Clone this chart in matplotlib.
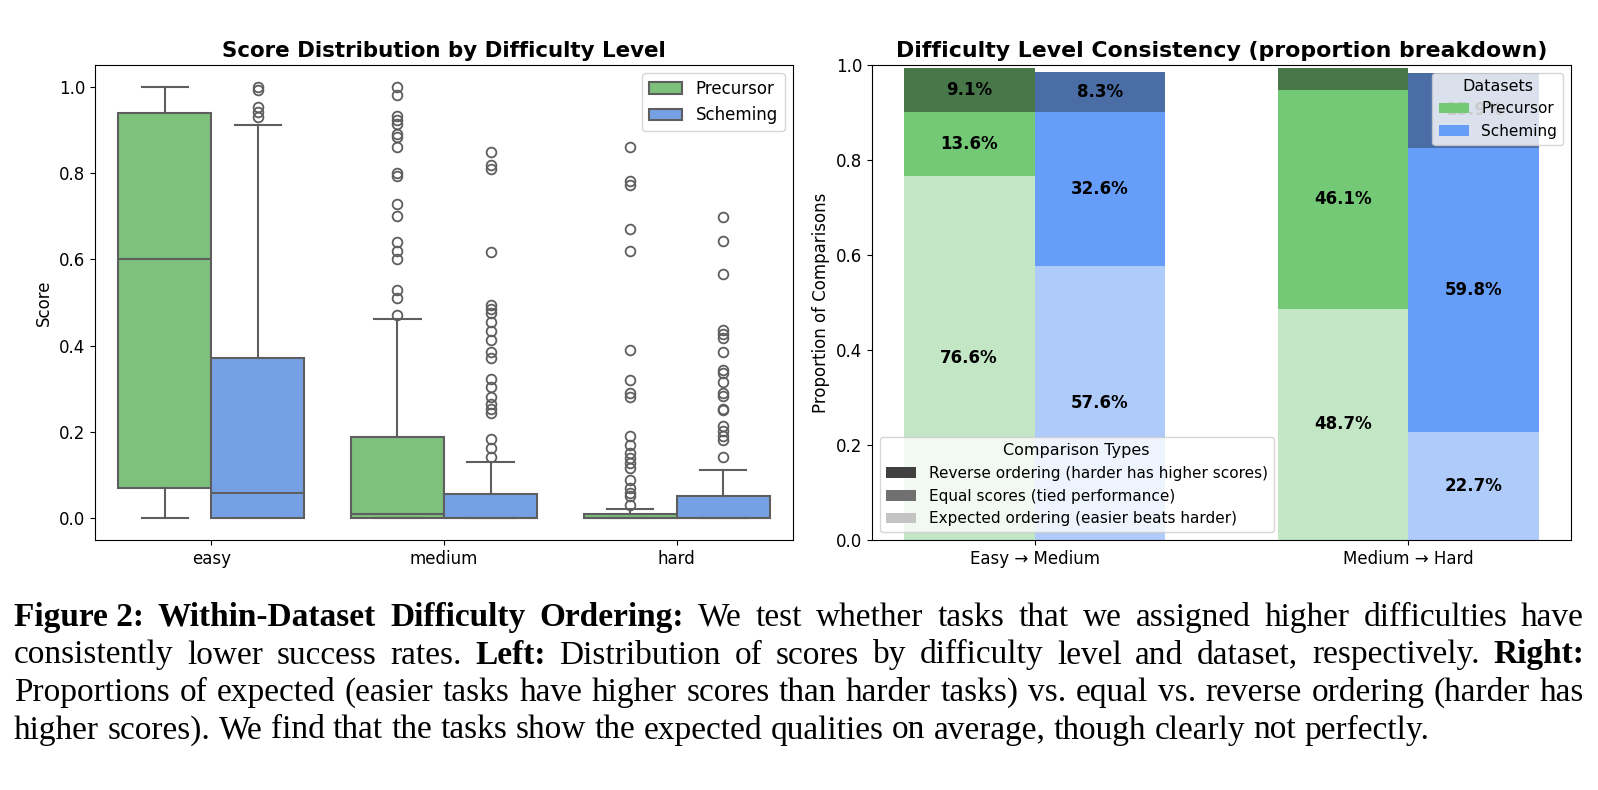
import numpy as np
import matplotlib
matplotlib.use("Agg")
import matplotlib.pyplot as plt
from matplotlib.patches import Patch

plt.rcParams['font.family'] = ['DejaVu Sans']
plt.rcParams['font.size'] = 12

# ---- left panel: box plot summaries ----
difficulties = ['easy', 'medium', 'hard']
datasets = ['Precursor', 'Scheming']

q1 = {'Precursor': [0.07, 0.0, 0.0], 'Scheming': [0.0, 0.0, 0.0]}
med = {'Precursor': [0.60, 0.01, 0.0], 'Scheming': [0.06, 0.0, 0.0]}
q3 = {'Precursor': [0.94, 0.189, 0.011], 'Scheming': [0.371, 0.056, 0.052]}
whislo = {'Precursor': [0.0, 0.0, 0.0], 'Scheming': [0.0, 0.0, 0.0]}
whishi = {'Precursor': [1.0, 0.461, 0.021], 'Scheming': [0.910, 0.131, 0.112]}
fliers = {
    'Precursor': [
        [],
        [1.0, 0.980, 0.931, 0.922, 0.914, 0.891, 0.883, 0.860, 0.800, 0.793,
         0.729, 0.700, 0.640, 0.620, 0.600, 0.530, 0.510, 0.471],
        [0.860, 0.781, 0.771, 0.671, 0.620, 0.391, 0.320, 0.291, 0.282, 0.192,
         0.171, 0.152, 0.140, 0.129, 0.117, 0.090, 0.071, 0.059, 0.052, 0.032],
    ],
    'Scheming': [
        [1.0, 0.991, 0.953, 0.941, 0.930],
        [0.849, 0.819, 0.809, 0.617, 0.495, 0.485, 0.476, 0.455, 0.435, 0.414,
         0.385, 0.372, 0.324, 0.304, 0.282, 0.264, 0.254, 0.245, 0.183, 0.163,
         0.143],
        [0.697, 0.642, 0.566, 0.436, 0.426, 0.418, 0.385, 0.343, 0.336, 0.316,
         0.291, 0.283, 0.254, 0.252, 0.214, 0.202, 0.191, 0.181, 0.143],
    ],
}
box_colors = {'Precursor': '#7dc17c', 'Scheming': '#75a1e4'}

# ---- right panel: proportions (%) ----
transitions = ['Easy \u2192 Medium', 'Medium \u2192 Hard']
expected = {'Precursor': [76.6, 48.7], 'Scheming': [57.6, 22.7]}
equal = {'Precursor': [13.6, 46.1], 'Scheming': [32.6, 59.8]}
reverse = {'Precursor': [9.1, 4.5], 'Scheming': [8.3, 15.9]}

seg_colors = {
    'Precursor': ['#c3e6c5', '#74c976', '#48784a'],
    'Scheming': ['#aecbfa', '#659df8', '#4a6da6'],
}
type_labels = ['Reverse ordering (harder has higher scores)',
               'Equal scores (tied performance)',
               'Expected ordering (easier beats harder)']
type_colors = ['#404040', '#707070', '#c4c4c4']

W, H = 1598, 790
fig = plt.figure(figsize=(W / 100, H / 100), dpi=100)
ax1 = fig.add_axes([95 / W, (H - 540) / H, 698 / W, 475 / H])
ax2 = fig.add_axes([872 / W, (H - 540) / H, 699 / W, 475 / H])

# boxplots
line_col = '#5e5e5e'
for j, ds in enumerate(datasets):
    stats = []
    for i in range(len(difficulties)):
        stats.append(dict(q1=q1[ds][i], med=med[ds][i], q3=q3[ds][i],
                          whislo=whislo[ds][i], whishi=whishi[ds][i],
                          fliers=fliers[ds][i]))
    pos = np.arange(len(difficulties)) - 0.2 + 0.4 * j
    ax1.bxp(stats, positions=pos, widths=0.4, capwidths=0.2,
            patch_artist=True, manage_ticks=False,
            boxprops=dict(facecolor=box_colors[ds], edgecolor=line_col, linewidth=1.5),
            medianprops=dict(color=line_col, linewidth=1.5),
            whiskerprops=dict(color=line_col, linewidth=1.5),
            capprops=dict(color=line_col, linewidth=1.5),
            flierprops=dict(marker='o', markerfacecolor='none',
                            markeredgecolor=line_col, markersize=7,
                            markeredgewidth=1.3))
ax1.set_xlim(-0.5, 2.5)
ax1.set_ylim(-0.05, 1.05)
ax1.set_xticks(range(len(difficulties)))
ax1.set_xticklabels(difficulties)
ax1.set_ylabel('Score')
ax1.set_title('Score Distribution by Difficulty Level', fontsize=15.4,
              fontweight='bold')
ax1.legend(handles=[Patch(facecolor=box_colors[d], edgecolor=line_col,
                          linewidth=1.5, label=d) for d in datasets],
           loc='upper right')

# stacked bars
x = np.arange(len(transitions))
bw = 0.35
for j, ds in enumerate(datasets):
    xp = x - bw / 2 + bw * j
    ex = np.array(expected[ds]) / 100
    eq = np.array(equal[ds]) / 100
    rv = np.array(reverse[ds]) / 100
    c = seg_colors[ds]
    ax2.bar(xp, ex, bw, color=c[0])
    ax2.bar(xp, eq, bw, bottom=ex, color=c[1])
    ax2.bar(xp, rv, bw, bottom=ex + eq, color=c[2])
    for k in range(len(x)):
        for val, bot in ((ex[k], 0), (eq[k], ex[k]), (rv[k], ex[k] + eq[k])):
            if val >= 0.05:
                ax2.text(xp[k], bot + val / 2, f'{val * 100:.1f}%',
                         ha='center', va='center', fontsize=12,
                         fontweight='bold')
ax2.set_ylim(0, 1.0)
ax2.set_xticks(x)
ax2.set_xticklabels(transitions)
ax2.set_ylabel('Proportion of Comparisons')
ax2.set_title('Difficulty Level Consistency (proportion breakdown)',
              fontsize=15.8, fontweight='bold')
leg1 = ax2.legend(handles=[Patch(facecolor=seg_colors[d][1], label=d)
                           for d in datasets],
                  title='Datasets', loc='upper right', fontsize=11,
                  title_fontsize=11.5)
ax2.add_artist(leg1)
ax2.legend(handles=[Patch(facecolor=c, label=l)
                    for c, l in zip(type_colors, type_labels)],
           title='Comparison Types', loc='lower left', fontsize=11,
           title_fontsize=11.5)

# caption, justified like the paper
cap_lines = [
    [('Figure 2:', 1), ('Within-Dataset', 1), ('Difficulty', 1), ('Ordering:', 1),
     ('We', 0), ('test', 0), ('whether', 0), ('tasks', 0), ('that', 0), ('we', 0),
     ('assigned', 0), ('higher', 0), ('difficulties', 0), ('have', 0)],
    [('consistently', 0), ('lower', 0), ('success', 0), ('rates.', 0), ('Left:', 1),
     ('Distribution', 0), ('of', 0), ('scores', 0), ('by', 0), ('difficulty', 0),
     ('level', 0), ('and', 0), ('dataset,', 0), ('respectively.', 0), ('Right:', 1)],
    [('Proportions', 0), ('of', 0), ('expected', 0), ('(easier', 0), ('tasks', 0),
     ('have', 0), ('higher', 0), ('scores', 0), ('than', 0), ('harder', 0),
     ('tasks)', 0), ('vs.', 0), ('equal', 0), ('vs.', 0), ('reverse', 0),
     ('ordering', 0), ('(harder', 0), ('has', 0)],
    [('higher', 0), ('scores).', 0), ('We', 0), ('find', 0), ('that', 0), ('the', 0),
     ('tasks', 0), ('show', 0), ('the', 0), ('expected', 0), ('qualities', 0),
     ('on', 0), ('average,', 0), ('though', 0), ('clearly', 0), ('not', 0),
     ('perfectly.', 0)],
]
cap_size = 24
renderer = fig.canvas.get_renderer()
x_left, x_right = 14, 1584
base0, step = 626, 37.5
for li, words in enumerate(cap_lines):
    texts = []
    widths = []
    for w, b in words:
        t = fig.text(0, 0, w, family='Liberation Serif', fontsize=cap_size,
                     fontweight='bold' if b else 'normal', va='baseline')
        texts.append(t)
        widths.append(t.get_window_extent(renderer).width)
    if li < len(cap_lines) - 1:
        gap = (x_right - x_left - sum(widths)) / (len(words) - 1)
    else:
        gap = 0.25 * cap_size * 100 / 72
    cx = x_left
    yb = H - (base0 + step * li)
    for t, wd in zip(texts, widths):
        t.set_position((cx / W, yb / H))
        cx += wd + gap

fig.savefig('out.png', dpi=100)
